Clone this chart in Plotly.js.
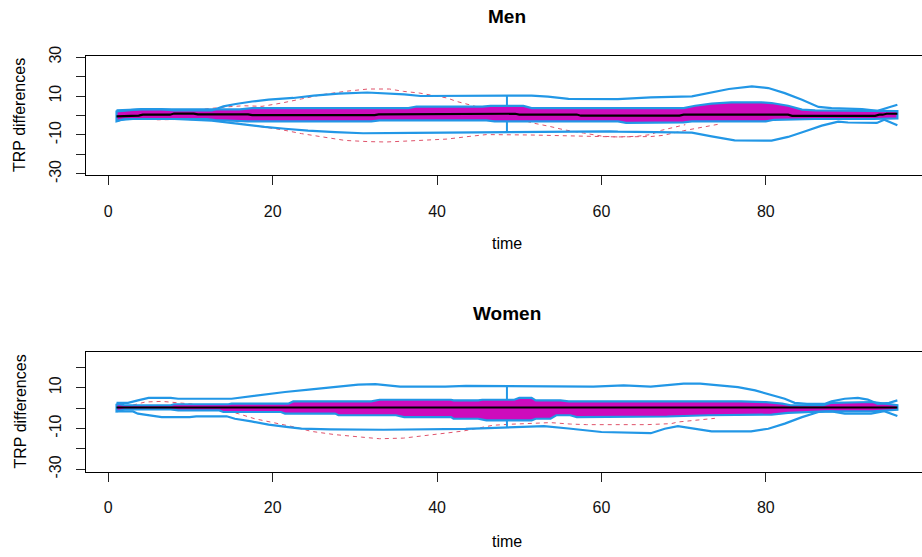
<!DOCTYPE html>
<html>
<head>
<meta charset="utf-8">
<script src="https://cdn.plot.ly/plotly-3.0.1.min.js"></script>
<style>
html,body{margin:0;padding:0;overflow:hidden;background:#fff;}
#chart{width:940px;height:557px;}
</style>
</head>
<body>
<div id="chart"></div>
<script>
// ---------- data ----------
const xTicks = [0, 20, 40, 60, 80];
const yTickVals = [-30, -20, -10, 0, 10, 20, 30];
const yTickText = ["-30", "", "-10", "", "10", "", "30"];
const panelTitles = ["Men", "Women"];
const xLabel = "time";
const yLabel = "TRP differences";

// Men
const menEnvUpT = [1,2,4,6.5,8,12.6,14,15.5,17.5,19.5,22.5,25,28,31.5,33.5,36,38,47.5,51.5,53.5,56,62,66,71,73.5,75.5,78.3,80.3,82.3,84.4,86.4,88,91.7,93.6,95,96];
const menEnvUpV = [2.1,2.5,3.3,3.3,2.6,2.6,4.7,5.9,7.2,8.1,9.0,10.2,11.2,11.8,11.4,10.8,10.0,9.9,10.2,9.7,8.5,8.4,9.3,9.8,11.8,13.6,14.9,14.1,11.5,8.1,4.4,3.8,3.3,2.4,4.2,5.5];
const menEnvLoT = [1,1.5,3,8,12.6,14.5,16.7,19,21.5,24.3,27.6,31,37,47.5,49.5,61,62,66,71,73.4,76.2,80.7,82.7,84.8,86.8,88.8,90,93.5,94.4,96];
const menEnvLoV = [-3.0,-2.2,-1.8,-1.8,-2.6,-3.6,-4.7,-5.8,-6.8,-7.8,-8.5,-9.1,-8.9,-8.5,-8.2,-8.1,-8.3,-8.6,-8.8,-10.7,-12.8,-12.9,-11.0,-8.1,-5.2,-3.2,-3.6,-3.8,-2.2,-5.0];
const menMidUpT = [1,2,4,16,17.5,36.5,37.5,45.5,46.5,50.5,51.5,70,71.4,73.4,75.8,79.5,80.7,82.7,84.4,86,93,96];
const menMidUpV = [2.6,2.8,3.1,3.1,3.8,3.8,4.6,4.6,4.9,4.9,3.8,3.8,5.0,6.1,6.7,6.7,6.4,5.0,3.0,2.6,2.4,2.2];
const menMidLoT = [1,2,12,13,17,32,33,46,47,62,63,65,66,70,71,80,81,86,93,96];
const menMidLoV = [-3.0,-1.8,-1.8,-2.3,-3.0,-3.0,-2.5,-2.5,-3.0,-3.0,-3.8,-3.8,-3.5,-3.5,-3.0,-3.0,-2.2,-1.8,-1.8,-1.5];
const menMedT = [1,1.9,2.4,3.7,4.2,7.5,8.0,10.4,10.9,17,17.5,32.4,32.9,42,42.5,49.5,50,57,57.5,69.5,70,82.7,83.2,93.3,93.8,94.2,94.7,96];
const menMedV = [-0.4,-0.4,-0.1,-0.1,0.4,0.4,1.0,1.0,0.6,0.6,0.2,0.2,0.6,0.6,0.9,0.9,0.5,0.5,-0.1,-0.1,0.4,0.4,-0.2,-0.2,0.4,0.4,0.9,0.9];
const menOut1T = [3,5,8,11,14.3,16.5,18.7,21.1,23.5,26,28.8,31.6,34.2,35.9,37.9,39.1,41.2,42.4,44.4,48,51.7,53.7,55.4,57.8,60.2,61.9,64.3,66,67.3,68.8,70.2];
const menOut1V = [1.5,3.1,3.0,3.0,4.4,5.0,4.7,6.4,8.5,10.7,12.4,13.6,13.6,12.4,11.5,10.7,9.0,7.2,5.0,0.5,-3.9,-5.6,-7.3,-9.0,-10.7,-11.0,-10.7,-9.8,-7.6,-6.1,-4.7];
const menOut2T = [3,6,9,12,15,16.8,18.7,21.1,23.5,26,28.8,31.6,33.8,35.9,38.7,41.2,44,46,51.3,56,62,66,67.5,70,72.5,74.6];
const menOut2V = [-0.5,-2.2,-2.0,-2.4,-3.5,-4.6,-5.6,-7.3,-9.3,-11.0,-12.8,-13.4,-13.6,-13.2,-12.8,-12.1,-10.7,-9.8,-10.0,-10.6,-11.0,-10.8,-10.2,-7.8,-5.8,-4.2];
const menWhiskT = 48.5;
const menWhiskV = [10.1, 4.9, -3.0, -8.5];

// Women
const womEnvUpT = [1,2.4,3.6,4.9,7.6,8.5,15,16.6,18.7,21.5,24.7,27.6,30.4,32.5,34,35.5,41,43.5,59,62.7,66,68,70,72,74.2,76.6,78.7,80.7,82.3,83.5,85,87.2,88,89.6,91.2,92.4,93.6,95,96];
const womEnvUpV = [2.6,2.6,3.8,5.0,5.0,4.6,4.6,5.4,6.6,7.9,9.2,10.3,11.5,11.8,11.1,10.5,10.5,10.9,10.5,11.1,10.5,11.3,12.0,12.0,11.1,10.3,8.7,6.6,4.6,2.6,2.1,2.1,3.3,4.6,5.0,4.2,2.1,2.6,3.8];
const womEnvLoT = [1,3,3.6,4.9,6.5,9.9,10.7,14.4,15.4,17.4,19.5,21.9,23.5,27,32.4,33.5,43.5,48.5,53,56,60,66,67.7,69.3,71,73.4,78.2,80.3,82.3,84.4,86.4,88,89.6,92.8,94.4,96];
const womEnvLoV = [-1.6,-1.6,-2.7,-3.6,-4.4,-4.4,-4.0,-4.0,-5.2,-6.5,-8.1,-9.3,-10.0,-10.4,-10.6,-10.6,-10.2,-9.3,-8.8,-10.0,-11.7,-12.3,-10.1,-8.8,-9.8,-11.4,-11.4,-10.1,-7.6,-4.4,-1.9,-1.6,-2.7,-2.7,-1.5,-3.9];
const womMidUpT = [1,2,7.6,8,14.6,15,21.9,22.5,32,33,41.7,42,45,45.5,49.4,50,51.5,52,55,56,77,80,82,83,87,88,93,96];
const womMidUpV = [2.1,1.4,1.4,1.9,1.9,2.2,2.2,3.3,3.3,4.1,4.1,3.8,3.8,4.1,4.1,5.0,5.0,3.8,3.8,3.3,3.3,2.9,2.2,1.4,1.4,2.6,3.0,1.4];
const womMidLoT = [1,2,7.6,8.5,13.5,14,21,21.5,27.6,28,35,36,41.7,42,45,46,51.5,52,53.8,54.5,56.2,57,61,68,73,80.7,82.7,87.2,93,96];
const womMidLoV = [-1.6,-0.6,-0.6,-1.1,-1.1,-1.9,-1.9,-2.7,-2.7,-3.5,-3.5,-4.4,-4.4,-5.2,-5.2,-6.0,-6.0,-5.2,-5.2,-3.5,-3.5,-4.4,-4.4,-4.1,-3.5,-3.2,-2.3,-1.6,-1.6,-0.8];
const womMedT = [1, 96];
const womMedV = [0.3, 0.3];
const womOutT = [3,4.5,6.5,8.3,10.5,13,15.8,17.8,20.3,22.7,24.7,27.6,30.8,33,35.9,37.9,39.9,42,43.2,45.2,46.8,48.9,52.2,53.8,56.2,58.2,65.5,68.5,69.3,71.4,73.4,73.8];
const womOutV = [1.5,3.0,3.3,2.6,1.9,0,-2.7,-5.2,-7.2,-9.3,-11.4,-13.0,-14.2,-15.0,-14.7,-13.8,-13.1,-11.8,-11.2,-9.8,-8.4,-7.9,-7.3,-7.1,-7.8,-8.1,-8.1,-7.6,-6.8,-6.0,-5.2,-5.0];
const womWhiskT = 48.5;
const womWhiskV = [10.3, 4.1, -6.0, -9.3];

// ---------- styling ----------
const BLUE = "#2297E6", MAGENTA = "#CD0BBC", RED = "#DF536B", BLACK = "#000000";
const FONT = "Liberation Sans, Arial, sans-serif";
const W = 940, H = 557;

function ln(xa, ya, x, y, color, width, dash) {
  return {type: "scatter", mode: "lines", x: x, y: y, xaxis: xa, yaxis: ya,
    line: {color: color, width: width, dash: dash || "solid"}, hoverinfo: "skip", showlegend: false};
}
function panel(xa, ya, d) {
  const tr = [];
  d.outs.forEach(o => tr.push(ln(xa, ya, o[0], o[1], RED, 1, "4px,4px")));
  tr.push({type: "scatter", mode: "lines", xaxis: xa, yaxis: ya,
    x: d.upT.concat(d.loT.slice().reverse()).concat([d.upT[0]]),
    y: d.upV.concat(d.loV.slice().reverse()).concat([d.upV[0]]),
    fill: "toself", fillcolor: MAGENTA, line: {color: BLUE, width: 2.2},
    hoverinfo: "skip", showlegend: false});
  tr.push(ln(xa, ya, d.envUpT, d.envUpV, BLUE, 2.2));
  tr.push(ln(xa, ya, d.envLoT, d.envLoV, BLUE, 2.2));
  tr.push(ln(xa, ya, [d.wT, d.wT, null, d.wT, d.wT], [d.wV[0], d.wV[1], null, d.wV[2], d.wV[3]], BLUE, 2));
  tr.push(ln(xa, ya, d.medT, d.medV, BLACK, 2.2));
  return tr;
}

const traces = panel("x", "y", {
  outs: [[menOut1T, menOut1V], [menOut2T, menOut2V]],
  upT: menMidUpT, upV: menMidUpV, loT: menMidLoT, loV: menMidLoV,
  envUpT: menEnvUpT, envUpV: menEnvUpV, envLoT: menEnvLoT, envLoV: menEnvLoV,
  wT: menWhiskT, wV: menWhiskV, medT: menMedT, medV: menMedV
}).concat(panel("x2", "y2", {
  outs: [[womOutT, womOutV]],
  upT: womMidUpT, upV: womMidUpV, loT: womMidLoT, loV: womMidLoV,
  envUpT: womEnvUpT, envUpV: womEnvUpV, envLoT: womEnvLoT, envLoV: womEnvLoV,
  wT: womWhiskT, wV: womWhiskV, medT: womMedT, medV: womMedV
}));

const xDom = [85.7 / W, 928.6 / W];
function xax(anchor) {
  return {domain: xDom, range: [-2.75, 99.8], anchor: anchor, tickvals: xTicks,
    ticktext: xTicks.map(String), showline: true, mirror: true, linecolor: "#000", linewidth: 1,
    ticks: "outside", ticklen: 9, tickcolor: "#222", tickwidth: 1, showgrid: false, zeroline: false,
    tickfont: {family: FONT, size: 16, color: "#111"}, ticklabelstandoff: 12, fixedrange: true};
}
function yax(anchor, dom, rng) {
  return {domain: dom, range: rng, anchor: anchor, tickvals: yTickVals, ticktext: yTickText,
    tickangle: -90, showline: true, mirror: true, linecolor: "#000", linewidth: 1,
    ticks: "outside", ticklen: 9, tickcolor: "#222", tickwidth: 1, showgrid: false, zeroline: false,
    tickfont: {family: FONT, size: 16, color: "#111"}, ticklabelstandoff: 8, fixedrange: true};
}
const cx = 507 / W;
function ann(text, x, yPx, size, bold, angle) {
  return {text: bold ? "<b>" + text + "</b>" : text, xref: "paper", yref: "paper",
    x: x, y: 1 - yPx / H, xanchor: "center", yanchor: "middle", showarrow: false,
    textangle: angle || 0, font: {family: FONT, size: size, color: "#000"}};
}

const layout = {
  width: W, height: H, margin: {l: 0, r: 0, t: 0, b: 0},
  paper_bgcolor: "#fff", plot_bgcolor: "#fff", showlegend: false,
  xaxis: xax("y"), yaxis: yax("x", [1 - 175.3 / H, 1 - 55.7 / H], [-30.7, 30.7]),
  xaxis2: xax("y2"), yaxis2: yax("x2", [1 - 472 / H, 1 - 352 / H], [-31.3, 27.5]),
  annotations: [
    ann(panelTitles[0], cx, 17, 19, true),
    ann(panelTitles[1], cx, 313, 19, true),
    ann(xLabel, cx, 243, 16, false),
    ann(xLabel, cx, 541, 16, false),
    ann(yLabel, 19.5 / W, 115.5, 16, false, -90),
    ann(yLabel, 19.5 / W, 412, 16, false, -90)
  ]
};

Plotly.newPlot("chart", traces, layout, {staticPlot: true, displayModeBar: false});
</script>
</body>
</html>
